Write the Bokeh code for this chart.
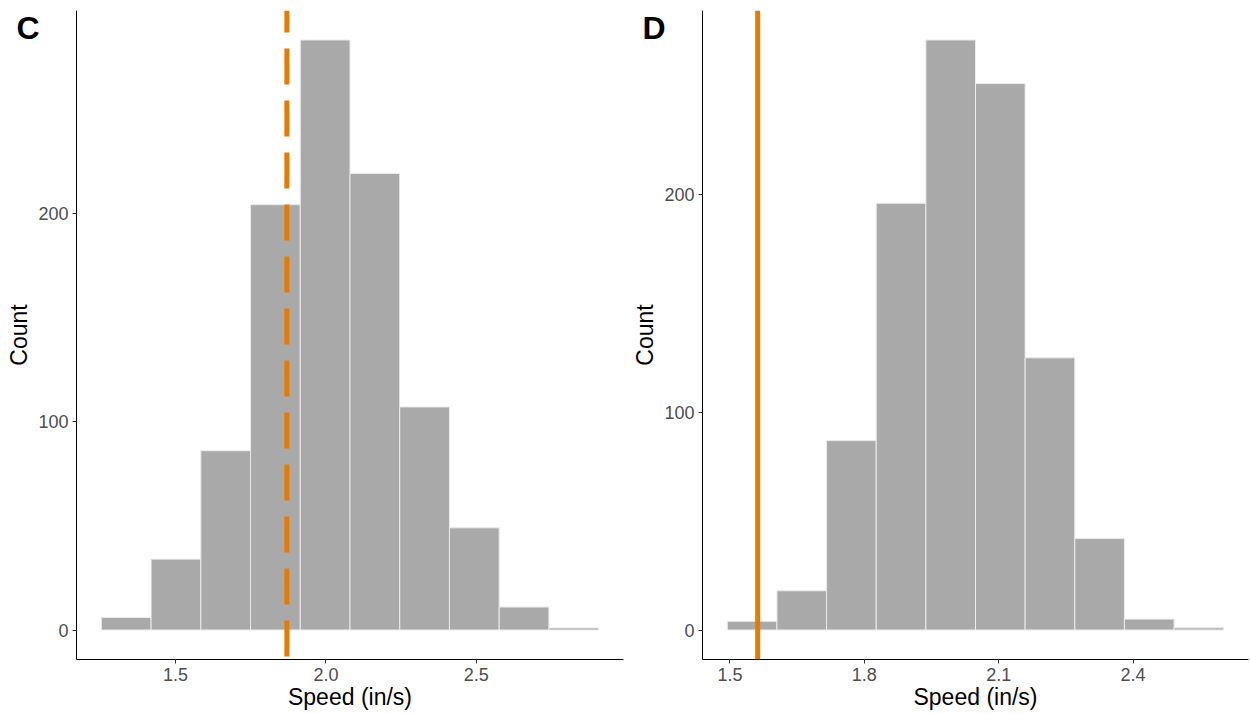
from bokeh.plotting import figure
from bokeh.models import Span, Label, FixedTicker, NumeralTickFormatter, Range1d
from bokeh.layouts import row
from bokeh.embed import file_html
from bokeh.resources import INLINE

# ---- data ----
c_counts = [6, 34, 86, 204, 283, 219, 107, 49, 11, 1]
c_bin_start = 1.253
c_bin_width = 0.1654
c_ref_speed = 1.870
c_xticks = [1.5, 2.0, 2.5]

d_counts = [4, 18, 87, 196, 271, 251, 125, 42, 5, 1]
d_bin_start = 1.4942
d_bin_width = 0.1108
d_ref_speed = 1.562
d_xticks = [1.5, 1.8, 2.1, 2.4]

y_ticks = [0, 100, 200]
x_label = "Speed (in/s)"
y_label = "Count"

FONT = "Liberation Sans"
ORANGE = "#E87A00"
BAR = "#A9A9A9"

TOP = 40      # top border (holds the panel letter's side panel)
SHIFT = 30    # the row is pulled up by this much so the frame starts 10px from the top


def make_panel(counts, start, width, ref, dash, xticks, letter, fig_w, left, right):
    edges = [start + i * width for i in range(len(counts) + 1)]
    lo, hi = edges[0], edges[-1]
    xpad = 0.05 * (hi - lo)
    ymax = max(counts)
    ypad = 0.05 * ymax
    p = figure(width=fig_w, height=714 + SHIFT,
               x_range=Range1d(lo - xpad, hi + xpad),
               y_range=Range1d(-ypad, ymax + ypad),
               output_backend="svg", toolbar_location=None,
               min_border_left=left, min_border_right=right,
               min_border_top=TOP, min_border_bottom=55)
    p.quad(left=edges[:-1], right=edges[1:], bottom=0, top=counts,
           fill_color=BAR, line_color="#EBEBEB", line_width=1)
    p.add_layout(Span(location=ref, dimension="height", line_color=ORANGE,
                      line_width=5, line_dash=dash, line_dash_offset=14))
    p.xgrid.visible = False
    p.ygrid.visible = False
    p.outline_line_color = None
    p.background_fill_color = "white"
    p.border_fill_color = "white"

    p.xaxis.ticker = FixedTicker(ticks=xticks)
    p.xaxis.formatter = NumeralTickFormatter(format="0.0")
    p.yaxis.ticker = FixedTicker(ticks=y_ticks)
    p.xaxis.axis_label = x_label
    p.yaxis.axis_label = y_label
    for ax in (p.xaxis[0], p.yaxis[0]):
        ax.axis_line_color = "black"
        ax.axis_line_width = 1
        ax.major_tick_line_color = "#333333"
        ax.major_tick_in = 0
        ax.major_tick_out = 4
        ax.minor_tick_line_color = None
        ax.major_label_text_font = FONT
        ax.major_label_text_font_size = "18px"
        ax.major_label_text_color = "#4D4D4D"
        ax.axis_label_text_font = FONT
        ax.axis_label_text_font_size = "23px"
        ax.axis_label_text_font_style = "normal"
        ax.axis_label_text_color = "black"
    p.xaxis.major_label_standoff = 4
    p.xaxis.axis_label_standoff = 0
    p.yaxis.major_label_standoff = 4
    p.yaxis.axis_label_standoff = 3

    # panel letter, placed in the top side panel so it is not clipped to the frame
    p.add_layout(Label(x=-60, y=-17, x_units="screen", y_units="screen",
                       text=letter, text_font=FONT, text_font_size="32px",
                       text_font_style="bold", text_color="black",
                       text_baseline="alphabetic", text_align="left"),
                 "above")
    return p


pc = make_panel(c_counts, c_bin_start, c_bin_width, c_ref_speed, "36 16",
                c_xticks, "C", 627, 76, 4)
pd_ = make_panel(d_counts, d_bin_start, d_bin_width, d_ref_speed, "solid",
                 d_xticks, "D", 623, 75, 2)

layout = row(pc, pd_, styles={"margin-top": f"-{SHIFT}px"})
open("out.html", "w").write(file_html(layout, INLINE))
